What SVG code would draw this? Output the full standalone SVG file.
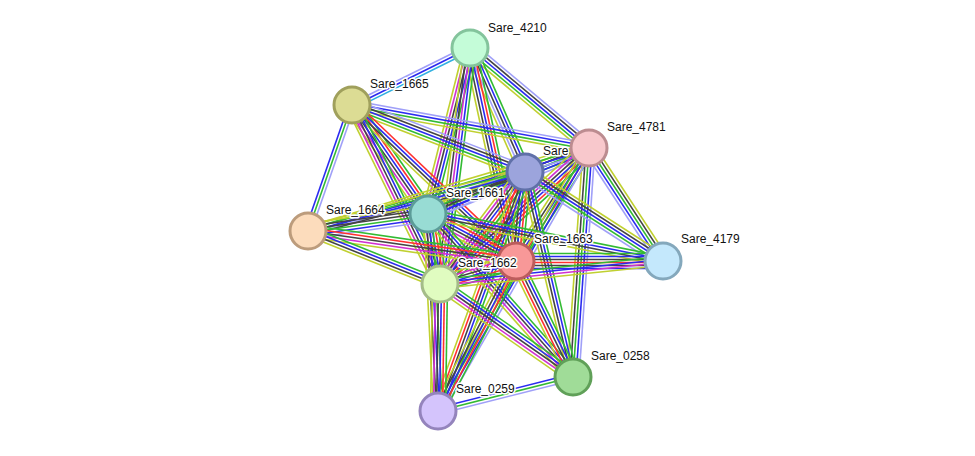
<svg xmlns="http://www.w3.org/2000/svg" width="975" height="456" viewBox="0 0 975 456">
<style>
line{stroke-width:1.6;fill:none}
.lb{stroke:#a0a0f8}.bl{stroke:#2b2bf0}.gr{stroke:#33bb33}.rd{stroke:#ff3030}.mg{stroke:#d030d0}.bk{stroke:#444}.yg{stroke:#c0d030}.cy{stroke:#30b0e0}
circle{stroke-width:3}
text{font-family:"Liberation Sans",Arial,sans-serif;font-size:12px;fill:#111;stroke:#fff;stroke-width:3;stroke-linejoin:round;paint-order:stroke}
</style>
<rect width="975" height="456" fill="#fff"/>
<g id="edges">
<g id="e-4210-1665" transform="translate(470 48) rotate(153.6)"><line class="cy" x2="131.5" y1="-3" y2="-3"/><line class="bl" x2="131.5" y1="0" y2="0"/><line class="lb" x2="131.5" y1="3" y2="3"/></g>
<g id="e-4210-4781" transform="translate(470 48) rotate(40.0)"><line class="lb" x2="156" y1="-6" y2="-6"/><line class="bk" x2="156" y1="-3" y2="-3"/><line class="bl" x2="156" y1="0" y2="0"/><line class="gr" x2="156" y1="3" y2="3"/><line class="yg" x2="156" y1="6" y2="6"/></g>
<g id="e-4210-D" transform="translate(470 48) rotate(66.1)"><line class="gr" x2="136" y1="-6" y2="-6"/><line class="bl" x2="136" y1="-3" y2="-3"/><line class="bk" x2="136" y1="0" y2="0"/><line class="lb" x2="136" y1="3" y2="3"/><line class="yg" x2="136" y1="6" y2="6"/></g>
<g id="e-4210-1661" transform="translate(470 48) rotate(104.2)"><line class="gr" x2="171" y1="-6" y2="-6"/><line class="bl" x2="171" y1="-3" y2="-3"/><line class="bk" x2="171" y1="0" y2="0"/><line class="mg" x2="171" y1="3" y2="3"/><line class="yg" x2="171" y1="6" y2="6"/></g>
<g id="e-4210-1663" transform="translate(470 48) rotate(77.8)"><line class="gr" x2="218" y1="-6" y2="-6"/><line class="rd" x2="218" y1="-3" y2="-3"/><line class="bl" x2="218" y1="0" y2="0"/><line class="bk" x2="218" y1="3" y2="3"/><line class="yg" x2="218" y1="6" y2="6"/></g>
<g id="e-4210-1662" transform="translate(470 48) rotate(97.2)"><line class="gr" x2="238" y1="-6" y2="-6"/><line class="bl" x2="238" y1="-3" y2="-3"/><line class="mg" x2="238" y1="0" y2="0"/><line class="bk" x2="238" y1="3" y2="3"/><line class="yg" x2="238" y1="6" y2="6"/></g>
<g id="e-1665-4781" transform="translate(352 105) rotate(10.28)"><line class="lb" x2="241" y1="-4.5" y2="-4.5"/><line class="bl" x2="241" y1="-1.5" y2="-1.5"/><line class="gr" x2="241" y1="1.5" y2="1.5"/><line class="yg" x2="241" y1="4.5" y2="4.5"/></g>
<g id="e-1665-D" transform="translate(352 105) rotate(21.17)"><line class="lb" x2="185.5" y1="-6" y2="-6"/><line class="bk" x2="185.5" y1="-3" y2="-3"/><line class="bl" x2="185.5" y1="0" y2="0"/><line class="gr" x2="185.5" y1="3" y2="3"/><line class="yg" x2="185.5" y1="6" y2="6"/></g>
<g id="e-1665-1661" transform="translate(352 105) rotate(55.11)"><line class="gr" x2="133" y1="-7.5" y2="-7.5"/><line class="rd" x2="133" y1="-4.5" y2="-4.5"/><line class="bl" x2="133" y1="-1.5" y2="-1.5"/><line class="bk" x2="133" y1="1.5" y2="1.5"/><line class="mg" x2="133" y1="4.5" y2="4.5"/><line class="yg" x2="133" y1="7.5" y2="7.5"/></g>
<g id="e-1665-1664" transform="translate(352 105) rotate(109.25)"><line class="lb" x2="133.5" y1="-3" y2="-3"/><line class="gr" x2="133.5" y1="0" y2="0"/><line class="bl" x2="133.5" y1="3" y2="3"/></g>
<g id="e-1665-1663" transform="translate(352 105) rotate(43.57)"><line class="rd" x2="226.3" y1="-4.5" y2="-4.5"/><line class="bl" x2="226.3" y1="-1.5" y2="-1.5"/><line class="bk" x2="226.3" y1="1.5" y2="1.5"/><line class="yg" x2="226.3" y1="4.5" y2="4.5"/></g>
<g id="e-1665-1662" transform="translate(352 105) rotate(63.82)"><line class="gr" x2="199.5" y1="-6" y2="-6"/><line class="bl" x2="199.5" y1="-3" y2="-3"/><line class="bk" x2="199.5" y1="0" y2="0"/><line class="mg" x2="199.5" y1="3" y2="3"/><line class="yg" x2="199.5" y1="6" y2="6"/></g>
<g id="e-4781-D" transform="translate(589 148) rotate(159.44)"><line class="gr" x2="68.4" y1="-4.5" y2="-4.5"/><line class="bl" x2="68.4" y1="-1.5" y2="-1.5"/><line class="bk" x2="68.4" y1="1.5" y2="1.5"/><line class="yg" x2="68.4" y1="4.5" y2="4.5"/></g>
<g id="e-4781-1661" transform="translate(589 148) rotate(157.71)"><line class="lb" x2="174" y1="-6" y2="-6"/><line class="bl" x2="174" y1="-3" y2="-3"/><line class="gr" x2="174" y1="0" y2="0"/><line class="bk" x2="174" y1="3" y2="3"/><line class="yg" x2="174" y1="6" y2="6"/></g>
<g id="e-4781-1664" transform="translate(589 148) rotate(163.54)"><line class="lb" x2="293" y1="-4.5" y2="-4.5"/><line class="bl" x2="293" y1="-1.5" y2="-1.5"/><line class="gr" x2="293" y1="1.5" y2="1.5"/><line class="yg" x2="293" y1="4.5" y2="4.5"/></g>
<g id="e-4781-1663" transform="translate(589 148) rotate(122.87)"><line class="gr" x2="134.5" y1="-6" y2="-6"/><line class="rd" x2="134.5" y1="-3" y2="-3"/><line class="bl" x2="134.5" y1="0" y2="0"/><line class="bk" x2="134.5" y1="3" y2="3"/><line class="yg" x2="134.5" y1="6" y2="6"/></g>
<g id="e-4781-1662" transform="translate(589 148) rotate(137.61)"><line class="gr" x2="201.7" y1="-7.5" y2="-7.5"/><line class="rd" x2="201.7" y1="-4.5" y2="-4.5"/><line class="bl" x2="201.7" y1="-1.5" y2="-1.5"/><line class="bk" x2="201.7" y1="1.5" y2="1.5"/><line class="mg" x2="201.7" y1="4.5" y2="4.5"/><line class="yg" x2="201.7" y1="7.5" y2="7.5"/></g>
<g id="e-4781-4179" transform="translate(589 148) rotate(56.78)"><line class="yg" x2="135.1" y1="-6" y2="-6"/><line class="bk" x2="135.1" y1="-3" y2="-3"/><line class="gr" x2="135.1" y1="0" y2="0"/><line class="bl" x2="135.1" y1="3" y2="3"/><line class="lb" x2="135.1" y1="6" y2="6"/></g>
<g id="e-4781-0258" transform="translate(589 148) rotate(94)"><line class="lb" x2="229.6" y1="-6" y2="-6"/><line class="bl" x2="229.6" y1="-3" y2="-3"/><line class="gr" x2="229.6" y1="0" y2="0"/><line class="bk" x2="229.6" y1="3" y2="3"/><line class="yg" x2="229.6" y1="6" y2="6"/></g>
<g id="e-4781-0259" transform="translate(589 148) rotate(119.86)"><line class="lb" x2="303.3" y1="-4.5" y2="-4.5"/><line class="bl" x2="303.3" y1="-1.5" y2="-1.5"/><line class="gr" x2="303.3" y1="1.5" y2="1.5"/><line class="yg" x2="303.3" y1="4.5" y2="4.5"/></g>
<g id="e-D-1661" transform="translate(525 172) rotate(156.59)"><line class="lb" x2="105.7" y1="-6" y2="-6"/><line class="bl" x2="105.7" y1="-3" y2="-3"/><line class="bk" x2="105.7" y1="0" y2="0"/><line class="gr" x2="105.7" y1="3" y2="3"/><line class="yg" x2="105.7" y1="6" y2="6"/></g>
<g id="e-D-1664" transform="translate(525 172) rotate(164.79)"><line class="bk" x2="224.9" y1="-4.5" y2="-4.5"/><line class="bl" x2="224.9" y1="-1.5" y2="-1.5"/><line class="gr" x2="224.9" y1="1.5" y2="1.5"/><line class="yg" x2="224.9" y1="4.5" y2="4.5"/></g>
<g id="e-D-1663" transform="translate(525 172) rotate(95.77)"><line class="gr" x2="89.5" y1="-6" y2="-6"/><line class="rd" x2="89.5" y1="-3" y2="-3"/><line class="bl" x2="89.5" y1="0" y2="0"/><line class="bk" x2="89.5" y1="3" y2="3"/><line class="yg" x2="89.5" y1="6" y2="6"/></g>
<g id="e-D-1662" transform="translate(525 172) rotate(127.19)"><line class="gr" x2="140.6" y1="-7.5" y2="-7.5"/><line class="rd" x2="140.6" y1="-4.5" y2="-4.5"/><line class="bl" x2="140.6" y1="-1.5" y2="-1.5"/><line class="bk" x2="140.6" y1="1.5" y2="1.5"/><line class="mg" x2="140.6" y1="4.5" y2="4.5"/><line class="yg" x2="140.6" y1="7.5" y2="7.5"/></g>
<g id="e-D-4179" transform="translate(525 172) rotate(32.82)"><line class="yg" x2="164.2" y1="-6" y2="-6"/><line class="bk" x2="164.2" y1="-3" y2="-3"/><line class="bl" x2="164.2" y1="0" y2="0"/><line class="gr" x2="164.2" y1="3" y2="3"/><line class="lb" x2="164.2" y1="6" y2="6"/></g>
<g id="e-D-0258" transform="translate(525 172) rotate(76.82)"><line class="gr" x2="210.5" y1="-4.5" y2="-4.5"/><line class="bl" x2="210.5" y1="-1.5" y2="-1.5"/><line class="bk" x2="210.5" y1="1.5" y2="1.5"/><line class="yg" x2="210.5" y1="4.5" y2="4.5"/></g>
<g id="e-D-0259" transform="translate(525 172) rotate(110)"><line class="gr" x2="254.3" y1="-6" y2="-6"/><line class="bl" x2="254.3" y1="-3" y2="-3"/><line class="bk" x2="254.3" y1="0" y2="0"/><line class="rd" x2="254.3" y1="3" y2="3"/><line class="yg" x2="254.3" y1="6" y2="6"/></g>
<g id="e-1661-1664" transform="translate(428 214) rotate(171.94)"><line class="lb" x2="121.2" y1="-7.5" y2="-7.5"/><line class="bl" x2="121.2" y1="-4.5" y2="-4.5"/><line class="gr" x2="121.2" y1="-1.5" y2="-1.5"/><line class="bk" x2="121.2" y1="1.5" y2="1.5"/><line class="bk" x2="121.2" y1="4.5" y2="4.5"/><line class="yg" x2="121.2" y1="7.5" y2="7.5"/></g>
<g id="e-1661-1663" transform="translate(428 214) rotate(28.1)"><line class="gr" x2="99.8" y1="-7.5" y2="-7.5"/><line class="rd" x2="99.8" y1="-4.5" y2="-4.5"/><line class="bl" x2="99.8" y1="-1.5" y2="-1.5"/><line class="bk" x2="99.8" y1="1.5" y2="1.5"/><line class="mg" x2="99.8" y1="4.5" y2="4.5"/><line class="yg" x2="99.8" y1="7.5" y2="7.5"/></g>
<g id="e-1661-1662" transform="translate(428 214) rotate(80.27)"><line class="gr" x2="71" y1="-7.5" y2="-7.5"/><line class="rd" x2="71" y1="-4.5" y2="-4.5"/><line class="bl" x2="71" y1="-1.5" y2="-1.5"/><line class="bk" x2="71" y1="1.5" y2="1.5"/><line class="mg" x2="71" y1="4.5" y2="4.5"/><line class="yg" x2="71" y1="7.5" y2="7.5"/></g>
<g id="e-1661-4179" transform="translate(428 214) rotate(11.31)"><line class="gr" x2="239.7" y1="-4.5" y2="-4.5"/><line class="bl" x2="239.7" y1="-1.5" y2="-1.5"/><line class="bk" x2="239.7" y1="1.5" y2="1.5"/><line class="yg" x2="239.7" y1="4.5" y2="4.5"/></g>
<g id="e-1661-0258" transform="translate(428 214) rotate(48.34)"><line class="gr" x2="218.2" y1="-6" y2="-6"/><line class="bl" x2="218.2" y1="-3" y2="-3"/><line class="bk" x2="218.2" y1="0" y2="0"/><line class="mg" x2="218.2" y1="3" y2="3"/><line class="yg" x2="218.2" y1="6" y2="6"/></g>
<g id="e-1661-0259" transform="translate(428 214) rotate(87.09)"><line class="gr" x2="197.3" y1="-4.5" y2="-4.5"/><line class="bl" x2="197.3" y1="-1.5" y2="-1.5"/><line class="bk" x2="197.3" y1="1.5" y2="1.5"/><line class="yg" x2="197.3" y1="4.5" y2="4.5"/></g>
<g id="e-1664-1663" transform="translate(308 231) rotate(8.21)"><line class="gr" x2="210.2" y1="-6" y2="-6"/><line class="rd" x2="210.2" y1="-3" y2="-3"/><line class="bk" x2="210.2" y1="0" y2="0"/><line class="mg" x2="210.2" y1="3" y2="3"/><line class="yg" x2="210.2" y1="6" y2="6"/></g>
<g id="e-1664-1662" transform="translate(308 231) rotate(21.88)"><line class="gr" x2="142.2" y1="-4.5" y2="-4.5"/><line class="bl" x2="142.2" y1="-1.5" y2="-1.5"/><line class="bk" x2="142.2" y1="1.5" y2="1.5"/><line class="yg" x2="142.2" y1="4.5" y2="4.5"/></g>
<g id="e-1663-1662" transform="translate(516 261) rotate(163.16)"><line class="gr" x2="79.4" y1="-7.5" y2="-7.5"/><line class="rd" x2="79.4" y1="-4.5" y2="-4.5"/><line class="bl" x2="79.4" y1="-1.5" y2="-1.5"/><line class="bk" x2="79.4" y1="1.5" y2="1.5"/><line class="mg" x2="79.4" y1="4.5" y2="4.5"/><line class="yg" x2="79.4" y1="7.5" y2="7.5"/></g>
<g id="e-1663-4179" transform="translate(516 261)"><line class="gr" x2="147" y1="-7.5" y2="-7.5"/><line class="bl" x2="147" y1="-4.5" y2="-4.5"/><line class="bk" x2="147" y1="-1.5" y2="-1.5"/><line class="rd" x2="147" y1="1.5" y2="1.5"/><line class="bk" x2="147" y1="4.5" y2="4.5"/><line class="bl" x2="147" y1="7.5" y2="7.5"/></g>
<g id="e-1663-0258" transform="translate(516 261) rotate(63.83)"><line class="gr" x2="129.2" y1="-6" y2="-6"/><line class="bl" x2="129.2" y1="-3" y2="-3"/><line class="bk" x2="129.2" y1="0" y2="0"/><line class="rd" x2="129.2" y1="3" y2="3"/><line class="yg" x2="129.2" y1="6" y2="6"/></g>
<g id="e-1663-0259" transform="translate(516 261) rotate(117.47)"><line class="gr" x2="169.1" y1="-6" y2="-6"/><line class="rd" x2="169.1" y1="-3" y2="-3"/><line class="bl" x2="169.1" y1="0" y2="0"/><line class="bk" x2="169.1" y1="3" y2="3"/><line class="yg" x2="169.1" y1="6" y2="6"/></g>
<g id="e-1662-4179" transform="translate(440 284) rotate(-5.89)"><line class="gr" x2="224.2" y1="-4.5" y2="-4.5"/><line class="bl" x2="224.2" y1="-1.5" y2="-1.5"/><line class="mg" x2="224.2" y1="1.5" y2="1.5"/><line class="yg" x2="224.2" y1="4.5" y2="4.5"/></g>
<g id="e-1662-0258" transform="translate(440 284) rotate(34.96)"><line class="gr" x2="162.3" y1="-6" y2="-6"/><line class="bl" x2="162.3" y1="-3" y2="-3"/><line class="bk" x2="162.3" y1="0" y2="0"/><line class="mg" x2="162.3" y1="3" y2="3"/><line class="yg" x2="162.3" y1="6" y2="6"/></g>
<g id="e-1662-0259" transform="translate(440 284) rotate(90.9)"><line class="gr" x2="127" y1="-7.5" y2="-7.5"/><line class="rd" x2="127" y1="-4.5" y2="-4.5"/><line class="bl" x2="127" y1="-1.5" y2="-1.5"/><line class="bk" x2="127" y1="1.5" y2="1.5"/><line class="mg" x2="127" y1="4.5" y2="4.5"/><line class="yg" x2="127" y1="7.5" y2="7.5"/></g>
<g id="e-0258-0259" transform="translate(573 377) rotate(165.86)"><line class="lb" x2="139.2" y1="-3" y2="-3"/><line class="gr" x2="139.2" y1="0" y2="0"/><line class="bl" x2="139.2" y1="3" y2="3"/></g>
</g>
<g id="n-4210"><circle cx="470" cy="48" r="18" fill="#c4fcd8" stroke="#84c49c"/><text x="488" y="32">Sare_4210</text></g>
<g id="n-1665"><circle cx="352" cy="105" r="18" fill="#dcdc94" stroke="#a0a05c"/><text x="370" y="88">Sare_1665</text></g>
<g id="n-1664"><circle cx="308" cy="231" r="18" fill="#fcdcbc" stroke="#bc9c7c"/><text x="326" y="214">Sare_1664</text></g>
<g id="n-1661"><circle cx="428" cy="214" r="18" fill="#98dcd4" stroke="#5c9c98"/><text x="446" y="197">Sare_1661</text></g>
<g id="n-D"><circle cx="525" cy="172" r="18" fill="#9ca4dc" stroke="#6070a8"/><text x="543" y="155">Sare</text></g>
<g id="n-4781"><circle cx="589" cy="148" r="18" fill="#f8c8cc" stroke="#bc8c90"/><text x="607" y="131">Sare_4781</text></g>
<g id="n-1663"><circle cx="516" cy="261" r="18" fill="#f89898" stroke="#bc5c5c"/><text x="534" y="243">Sare_1663</text></g>
<g id="n-1662"><circle cx="440" cy="284" r="18" fill="#e0fcc0" stroke="#a4bc88"/><text x="458" y="267">Sare_1662</text></g>
<g id="n-4179"><circle cx="663" cy="261" r="18" fill="#c4e8fc" stroke="#84a8bc"/><text x="681" y="243">Sare_4179</text></g>
<g id="n-0258"><circle cx="573" cy="377" r="18" fill="#a0dc98" stroke="#60a058"/><text x="591" y="360">Sare_0258</text></g>
<g id="n-0259"><circle cx="438" cy="411" r="18" fill="#d4c4fc" stroke="#9484bc"/><text x="456" y="393">Sare_0259</text></g>
</svg>
